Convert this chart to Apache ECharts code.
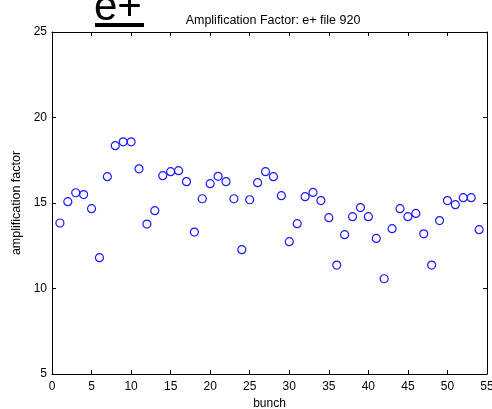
<!DOCTYPE html>
<html><head><meta charset="utf-8">
<script src="https://cdn.jsdelivr.net/npm/echarts@6/dist/echarts.min.js"></script>
<style>html,body{margin:0;padding:0;background:#fff}#c{width:492px;height:409px}</style>
</head><body><div id="c"></div>
<script>
const bunches = [1,2,3,4,5,6,7,8,9,10,11,12,13,14,15,16,17,18,19,20,21,22,23,24,25,26,27,28,29,30,31,32,33,34,35,36,37,38,39,40,41,42,43,44,45,46,47,48,49,50,51,52,53,54];
const ampFactor = [13.83,15.08,15.6,15.49,14.67,11.8,16.54,18.35,18.58,18.58,17.0,13.77,14.55,16.6,16.83,16.89,16.25,13.3,15.25,16.13,16.56,16.25,15.25,12.27,15.19,16.19,16.83,16.54,15.43,12.74,13.79,15.37,15.62,15.14,14.14,11.37,13.15,14.2,14.73,14.2,12.93,10.57,13.5,14.67,14.2,14.39,13.2,11.37,13.97,15.14,14.9,15.31,15.31,13.44];
const xTicks = [0,5,10,15,20,25,30,35,40,45,50,55];
const yTicks = [5,10,15,20,25];
const titleText = 'Amplification Factor: e+ file 920';
const bigLabel = 'e+';
const xName = 'bunch';
const yName = 'amplification factor';

const chart = echarts.init(document.getElementById('c'));
const font = 'Arial, "Liberation Sans", sans-serif';
const axisCommon = {
  axisLine:{show:true,onZero:false,lineStyle:{color:'#000',width:1}},
  axisTick:{show:true,inside:true,length:4,lineStyle:{color:'#000'}},
  splitLine:{show:false}
};
chart.setOption({
  animation:false,
  backgroundColor:'#fff',
  title:{text:titleText,left:268,top:9,textAlign:'center',
    textStyle:{fontSize:12.5,fontWeight:'normal',color:'#000',fontFamily:font}},
  graphic:[
    {type:'text',left:94,top:-13,style:{text:bigLabel,fontSize:42,fontFamily:font,fill:'#000'}},
    {type:'rect',shape:{x:95,y:23,width:49,height:4},style:{fill:'#000'}}
  ],
  grid:{left:52,right:5,top:32,bottom:35,containLabel:false,outerBoundsMode:'none'},
  xAxis:[
    Object.assign({type:'value',min:0,max:55,interval:5,position:'bottom',
      name:xName,nameLocation:'middle',nameGap:23,
      nameTextStyle:{fontSize:12,color:'#000',fontFamily:font},
      axisLabel:{fontSize:12,color:'#000',fontFamily:font,margin:7}},axisCommon),
    Object.assign({type:'value',min:0,max:55,interval:5,position:'top',axisLabel:{show:false}},axisCommon)
  ],
  yAxis:[
    Object.assign({type:'value',min:5,max:25,interval:5,position:'left',
      name:yName,nameLocation:'middle',nameGap:20,
      nameTextStyle:{fontSize:12.5,color:'#000',fontFamily:font},
      axisLabel:{fontSize:12,color:'#000',fontFamily:font,margin:5}},axisCommon),
    Object.assign({type:'value',min:5,max:25,interval:5,position:'right',axisLabel:{show:false}},axisCommon)
  ],
  series:[{
    type:'scatter',
    xAxisIndex:0,yAxisIndex:0,
    data:bunches.map((b,i)=>[b,ampFactor[i]]),
    symbol:'circle',symbolSize:8,
    itemStyle:{color:'rgba(255,255,255,0)',borderColor:'#1a1aff',borderWidth:1.2,opacity:1},
    emphasis:{disabled:true}
  }]
});
</script></body></html>
